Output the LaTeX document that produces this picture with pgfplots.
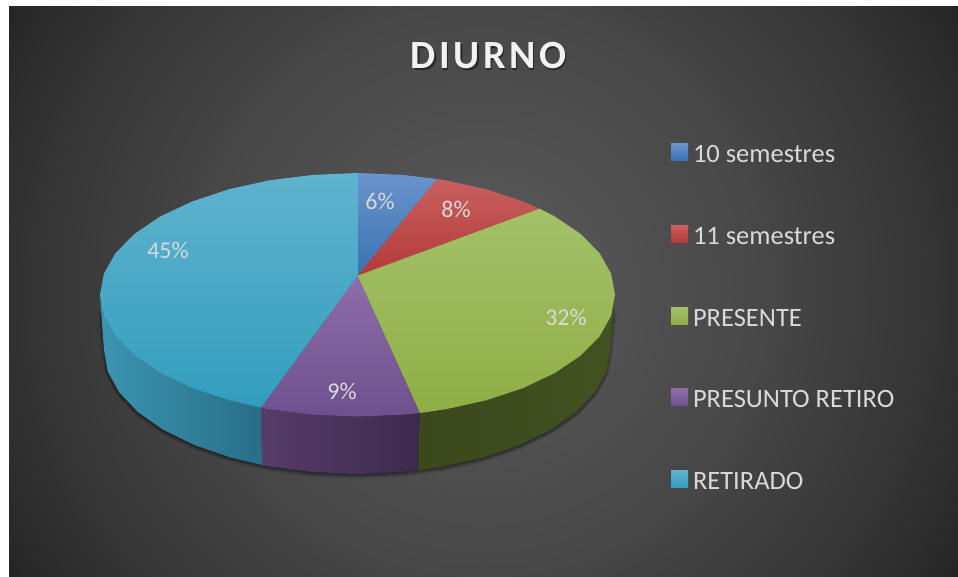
\documentclass[border=0pt]{standalone}
\usepackage{pgfplots}
\usepackage{pgfplotstable}
\usepackage{fontspec}
\pgfplotsset{compat=1.18}
\setmainfont{Carlito}
\newfontfamily\titlefont[LetterSpace=9,Ligatures=NoCommon]{Carlito}
\definecolor{lab}{HTML}{D9D9D9}
\pgfdeclareradialshading{bgshade}{\pgfpoint{0bp}{0bp}}{%
 rgb(0bp)=(0.36,0.36,0.36);
 rgb(12.65bp)=(0.278,0.278,0.278);
 rgb(20.65bp)=(0.2,0.2,0.2);
 rgb(24.35bp)=(0.149,0.149,0.149);
 rgb(25bp)=(0.14,0.14,0.14);
 rgb(50bp)=(0.14,0.14,0.14)}
\definecolor{b1}{HTML}{6A94CD}\definecolor{b2}{HTML}{3A72B0}
\definecolor{r1}{HTML}{C96060}\definecolor{r2}{HTML}{B33A38}
\definecolor{g1}{HTML}{A3C169}\definecolor{g2}{HTML}{9ABB53}\definecolor{g3}{HTML}{90AE45}
\definecolor{p1}{HTML}{8D6EA9}\definecolor{p2}{HTML}{6E508E}
\definecolor{t1}{HTML}{5FB3CF}\definecolor{t2}{HTML}{41AAC9}\definecolor{t3}{HTML}{339DBD}
% slices of the pie, top face (picture coordinates)
\pgfplotstableread{
x y
357.5 275.7
357.5 173.0
402.2 174.9
437.1 179.0
}\sliceA
\pgfplotstableread{
x y
357.5 275.7
437.1 179.0
445.6 180.3
486.3 189.3
523.0 201.5
539.6 208.7
}\sliceB
\pgfplotstableread{
x y
357.5 275.7
539.6 208.7
554.8 216.5
580.5 233.9
599.5 253.1
611.1 273.7
615.0 294.8
611.1 315.9
599.5 336.5
580.5 355.7
554.8 373.1
523.0 388.1
486.3 400.3
445.6 409.3
419.8 413.0
}\sliceC
\pgfplotstableread{
x y
357.5 275.7
419.8 413.0
402.2 414.7
357.5 416.6
312.8 414.7
269.4 409.3
261.0 407.7
}\sliceD
\pgfplotstableread{
x y
357.5 275.7
261.0 407.7
228.7 400.3
192.0 388.1
160.2 373.1
134.5 355.7
115.5 336.5
103.9 315.9
100.0 294.8
103.9 273.7
115.5 253.1
134.5 233.9
160.2 216.5
192.0 201.5
228.7 189.3
269.4 180.3
312.8 174.9
357.5 173.0
}\sliceE
% outer walls
\pgfplotstableread{
x y
100.0 294.8
103.9 315.9
115.5 336.5
134.5 355.7
160.2 373.1
192.0 388.1
228.7 400.3
261.0 407.7
262.2 465.0
230.5 457.4
194.4 445.0
163.2 429.7
137.9 412.0
119.3 392.4
107.8 371.5
104.0 350.0
}\wallE
\pgfplotstableread{
x y
261.0 407.7
269.4 409.3
312.8 414.7
357.5 416.6
402.2 414.7
419.8 413.0
418.2 470.3
400.9 472.1
357.0 474.0
313.1 472.1
270.5 466.5
262.2 465.0
}\wallD
\pgfplotstableread{
x y
419.8 413.0
445.6 409.3
486.3 400.3
523.0 388.1
554.8 373.1
580.5 355.7
599.5 336.5
611.1 315.9
615.0 294.8
610.0 350.0
606.2 371.5
594.7 392.4
576.1 412.0
550.8 429.7
519.6 445.0
483.5 457.4
443.5 466.5
418.2 470.3
}\wallC
\pgfplotstableread{
x y
101.0 310.0
104.0 350.0
107.8 371.5
119.3 392.4
137.9 412.0
163.2 429.7
194.4 445.0
230.5 457.4
270.5 466.5
313.1 472.1
357.0 474.0
400.9 472.1
443.5 466.5
483.5 457.4
519.6 445.0
550.8 429.7
576.1 412.0
594.7 392.4
606.2 371.5
610.0 350.0
614.0 310.0
}\shadowpath
\pgfplotstableread{
x y v
380 201 6
456 209 8
566 317 32
342 391 9
168 250 45
}\labels
\begin{document}
\begin{tikzpicture}[x=1pt,y=1pt]
\path[use as bounding box,fill=white] (0,0) rectangle (958,577);
\begin{scope}
\clip (9,0) rectangle (958,570);
\shade[shading=bgshade] (483,287) circle (560);
\end{scope}
\begin{axis}[
  at={(0,0)},anchor=south west,
  scale only axis,width=958pt,height=577pt,
  xmin=0,xmax=958,ymin=0,ymax=577,y dir=reverse,
  hide axis,clip=false,
  legend image code/.code={\path[#1] (0pt,-5pt) rectangle (17pt,12pt);\path (0pt,0pt) -- (22pt,0pt);},
  legend cell align=left,
  legend style={at={(axis cs:671,143.5)},anchor=north west,draw=none,fill=none,
    inner sep=0pt,outer sep=0pt,row sep=58.75pt,text=lab,
    font=\fontsize{26.5}{28}\selectfont,
    nodes={inner sep=0pt,outer sep=0pt,text height=18pt,text depth=4pt}},
]
% shadow
\addplot[forget plot,draw=none,fill=black,opacity=.10,xshift=-3pt,yshift=-1pt] table {\shadowpath};
\addplot[forget plot,draw=none,fill=black,opacity=.10,xshift=3pt,yshift=-1pt] table {\shadowpath};
\addplot[forget plot,draw=none,fill=black,opacity=.12,xshift=-1.5pt,yshift=-3pt] table {\shadowpath};
\addplot[forget plot,draw=none,fill=black,opacity=.12,xshift=1.5pt,yshift=-3pt] table {\shadowpath};
\addplot[forget plot,draw=none,fill=black,opacity=.10,xshift=0pt,yshift=-5pt] table {\shadowpath};
% walls
\addplot[forget plot,draw=none,shade,left color={rgb,255:red,60;green,149;blue,177},right color={rgb,255:red,39;green,110;blue,135}] table {\wallE};
\addplot[forget plot,draw=none,shade,left color={rgb,255:red,86;green,60;blue,106},right color={rgb,255:red,60;green,42;blue,76}] table {\wallD};
\addplot[forget plot,draw=none,shade,left color={rgb,255:red,58;green,72;blue,28},right color={rgb,255:red,66;green,82;blue,32}] table {\wallC};
% top faces
\addplot[draw=none,shade,top color=b1,bottom color=b2] table {\sliceA};
\addlegendentry{10 semestres}
\addplot[draw=none,shade,top color=r1,bottom color=r2] table {\sliceB};
\addlegendentry{11 semestres}
\addplot[draw=none,shade,top color=g1,middle color=g2,bottom color=g3] table {\sliceC};
\addlegendentry{PRESENTE}
\addplot[draw=none,shade,top color=p1,bottom color=p2] table {\sliceD};
\addlegendentry{PRESUNTO RETIRO}
\addplot[draw=none,shade,top color=t1,middle color=t2,bottom color=t3] table {\sliceE};
\addlegendentry{RETIRADO}
% data labels
\addplot[forget plot,draw=none,mark=none,point meta=explicit symbolic,
  nodes near coords={\pgfplotspointmeta\%},
  nodes near coords align={center},
  every node near coord/.append style={anchor=center,inner sep=0pt,text=lab,font=\fontsize{24}{26}\selectfont}]
  table[x=x,y=y,meta=v] {\labels};
% title
\node[text=black,opacity=.45,font=\titlefont\bfseries\fontsize{40}{44}\selectfont,anchor=base] at (axis cs:490,70.3) {DIURNO};
\node[text={rgb,255:red,242;green,242;blue,242},font=\titlefont\bfseries\fontsize{40}{44}\selectfont,anchor=base] at (axis cs:488.5,68.5) {DIURNO};
\end{axis}
\end{tikzpicture}
\end{document}
